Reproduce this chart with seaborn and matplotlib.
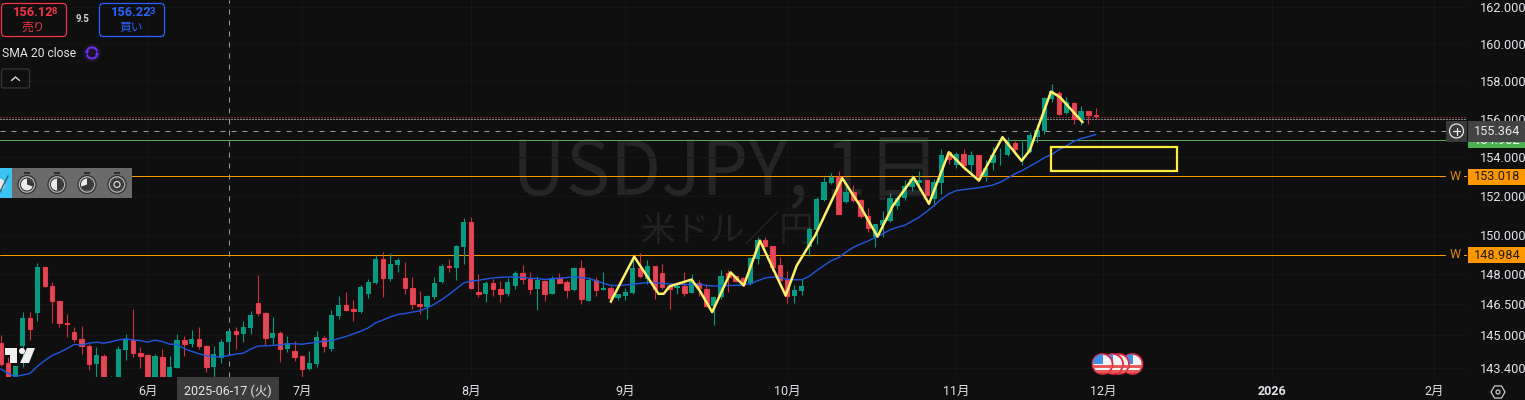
"""USDJPY daily candles with SMA 20, hand drawn zigzag and levels."""
import matplotlib.pyplot as plt
import matplotlib.patches as mpatches
import numpy as np
import pandas as pd
import seaborn as sns

opens = [144.61,143.61,142.50,144.43,145.85,146.06,148.39,147.44,146.67,145.60,
         145.16,144.80,144.46,143.56,143.97,142.60,142.70,144.24,144.75,144.12,
         144.02,142.70,143.93,142.70,143.40,144.75,144.53,144.80,144.46,143.42,
         143.89,144.64,145.19,145.02,145.36,146.58,146.08,144.84,145.10,144.30,
         144.22,143.94,143.32,143.56,144.86,144.30,145.95,146.48,146.25,146.15,
         147.04,147.59,148.78,147.79,148.49,147.82,147.33,146.54,146.39,146.89,
         147.64,148.44,148.34,149.40,150.65,147.14,147.00,147.59,147.29,147.00,
         147.44,148.07,147.79,147.29,147.69,147.04,147.82,147.64,147.24,148.34,
         146.69,147.74,147.24,147.34,146.84,146.94,147.09,148.34,147.79,148.44,
         148.09,147.44,147.34,147.44,147.09,147.59,147.27,146.40,146.86,148.05,
         147.92,147.83,147.52,148.79,149.73,149.43,148.47,147.72,146.94,147.19,
         149.36,150.26,151.80,152.64,152.95,151.65,152.19,151.78,150.97,149.90,
         150.50,150.68,151.45,151.87,152.47,152.66,152.81,151.83,152.64,154.25,
         153.61,154.18,153.58,154.08,153.00,153.68,154.10,154.08,154.74,154.46,
         154.25,155.03,155.39,157.06,157.36,156.30,156.85,155.96,156.42,156.21]
closes = [143.58,142.60,143.50,145.85,145.27,148.39,147.41,146.66,145.59,145.55,
          144.79,144.45,143.56,143.99,142.60,142.90,144.29,144.80,144.10,143.96,
          142.70,143.94,142.70,143.45,144.77,144.54,144.82,144.45,143.42,144.04,
          144.67,145.21,145.03,145.40,146.00,146.06,144.84,145.11,144.30,144.58,
          143.91,143.32,143.60,144.87,144.45,146.00,146.49,146.21,146.17,147.39,
          147.64,148.79,147.80,148.54,148.74,147.31,146.51,146.41,146.94,147.59,
          148.44,148.39,149.43,150.67,147.33,147.01,147.59,147.26,147.00,147.64,
          148.09,147.75,147.29,147.70,147.04,147.84,147.59,147.24,148.34,146.79,
          147.74,147.24,147.34,146.84,147.00,147.14,148.34,147.94,148.44,147.26,
          147.39,147.29,147.44,147.09,147.74,147.33,146.41,146.89,147.93,147.85,
          147.65,147.55,148.84,149.73,149.41,148.35,147.70,146.94,147.24,147.44,
          150.30,151.83,152.68,152.95,151.05,152.21,151.77,150.93,150.33,150.55,
          150.73,151.90,151.87,152.52,152.86,152.83,152.04,152.68,154.08,153.90,
          154.17,153.60,154.08,153.00,153.42,154.08,154.13,154.77,154.44,154.49,
          155.13,155.43,157.11,157.50,156.25,156.88,155.99,156.44,156.19,156.13]
highs = [144.97,143.91,143.50,146.15,146.15,148.59,148.39,147.64,146.69,146.03,
         145.40,145.45,144.53,144.38,144.04,143.00,144.43,145.02,146.25,144.38,
         144.04,144.07,144.32,143.94,145.05,144.92,145.26,145.40,144.48,144.43,
         144.80,145.21,145.40,145.70,146.17,147.99,146.15,145.90,145.21,144.92,
         144.72,143.99,144.19,145.21,144.92,146.20,146.94,147.14,146.74,147.49,
         147.77,148.98,149.15,149.05,148.84,148.64,147.89,147.19,146.98,147.89,
         148.52,148.79,149.50,150.83,150.88,148.04,147.69,147.79,147.69,147.84,
         148.19,148.49,148.14,147.94,147.74,147.94,148.09,147.74,148.39,148.74,
         147.89,147.89,148.14,147.44,147.00,147.34,148.94,149.09,148.74,148.44,
         148.54,147.44,147.59,148.14,148.04,147.74,147.52,146.94,148.22,148.22,
         147.93,147.88,148.86,149.87,149.90,149.45,148.86,148.19,147.49,147.77,
         150.38,151.92,152.95,153.16,153.25,152.52,152.55,151.83,151.37,150.55,
         151.19,152.14,152.00,152.81,153.04,153.25,152.83,152.86,154.43,154.31,
         154.25,154.44,154.34,154.13,153.82,154.51,154.46,155.03,154.86,154.86,
         155.30,155.75,157.15,157.86,157.50,157.18,156.92,156.71,156.44,156.56]
lows = [143.50,142.40,142.30,143.42,144.77,145.67,147.36,145.57,145.37,144.89,
        144.64,144.04,143.26,142.80,142.40,142.40,142.50,143.79,143.91,143.40,
        142.50,142.50,142.50,142.50,143.38,143.94,144.38,144.32,143.17,142.90,
        143.61,144.15,144.29,144.67,145.05,145.95,144.48,144.56,143.69,144.14,
        143.74,142.90,143.26,143.42,144.14,144.19,145.80,146.18,145.70,146.10,
        146.81,147.50,146.86,147.69,148.14,147.04,146.25,146.05,145.80,146.79,
        147.59,148.14,147.74,148.54,147.26,146.86,146.60,146.94,146.64,146.94,
        147.28,147.54,147.04,146.20,146.69,147.03,147.57,146.84,147.19,146.54,
        146.67,146.94,147.22,146.59,146.74,146.74,147.00,147.84,147.52,146.79,
        147.29,146.25,147.04,146.94,147.07,146.94,146.36,145.47,146.78,147.14,
        147.63,147.44,147.49,148.52,149.36,148.19,147.68,146.56,146.56,146.99,
        148.94,149.53,151.71,152.62,151.04,151.63,151.66,150.87,150.13,149.36,
        149.90,150.66,151.32,151.75,152.23,152.30,152.00,151.49,152.09,153.64,
        153.44,153.30,152.95,152.78,152.78,153.35,153.61,154.03,154.08,153.56,
        154.20,154.81,155.18,156.88,156.21,156.28,155.75,155.66,155.71,155.99]
sma20 = [143.34,143.12,142.97,143.04,143.12,143.47,143.74,143.99,144.14,144.32,
         144.53,144.51,144.59,144.64,144.59,144.66,144.75,144.80,144.75,144.71,
         144.64,144.74,144.67,144.54,144.53,144.32,144.19,144.07,143.97,143.93,
         143.91,143.99,144.06,144.10,144.30,144.45,144.46,144.48,144.51,144.56,
         144.56,144.54,144.59,144.64,144.69,144.72,144.82,144.92,145.05,145.18,
         145.34,145.59,145.73,145.88,146.00,146.05,146.12,146.18,146.33,146.51,
         146.74,147.00,147.28,147.57,147.67,147.70,147.77,147.82,147.85,147.87,
         147.87,147.85,147.80,147.79,147.74,147.79,147.80,147.84,147.87,147.84,
         147.79,147.69,147.55,147.45,147.44,147.47,147.50,147.55,147.59,147.59,
         147.54,147.52,147.50,147.49,147.50,147.52,147.44,147.42,147.42,147.44,
         147.45,147.47,147.54,147.68,147.82,147.87,147.84,147.75,147.73,147.73,
         147.90,148.19,148.44,148.69,148.84,149.12,149.36,149.53,149.68,149.87,
         150.04,150.25,150.38,150.48,150.69,150.90,151.19,151.49,151.83,152.09,
         152.26,152.31,152.36,152.40,152.47,152.55,152.69,152.90,153.13,153.30,
         153.52,153.73,153.97,154.13,154.39,154.58,154.82,154.97,155.07,155.18]

zigzag_bar = [83, 86.2, 89.5, 90.2, 91, 94, 95.1, 96.8, 99.3, 101.1, 103.3, 106.8, 108.3, 110.8, 114.5,
              116.9, 119.3, 121.4, 124.2, 126.3, 129, 131, 133.1, 136.3, 138.9, 140, 142.9, 144.1, 147.2]
zigzag_price = [146.64, 148.89, 147.03, 147.03, 147.40, 147.74, 147.19, 146.12, 148.10, 147.44, 149.70, 146.94,
                148.44, 149.95, 152.90, 151.49, 149.90, 151.49, 152.95, 151.58, 154.25, 153.47, 152.78, 155.04,
                153.80, 154.34, 157.45, 157.16, 155.83]

price_ticks = [162, 160, 158, 156, 154, 152, 150, 148, 146.5, 145, 143.4]
month_bars = [20, 41, 64, 85, 107, 130, 150, 173, 195]
month_labels = ['6月', '7月', '8月', '9月', '10月', '11月', '12月', '2026', '2月']
weekly_levels = [153.018, 148.984]
green_level = 154.902
bid_price = 156.128
last_price = 156.02
cross_price = 155.364
cross_bar = 31
box_bars = [142.9, 160]
box_prices = [153.25, 154.55]

bg = '#0f0f0f'
sns.set_theme(style='darkgrid', rc={'figure.facecolor': bg, 'axes.facecolor': bg, 'grid.color': '#161616',
                                    'grid.linewidth': 0.72, 'axes.edgecolor': bg, 'axes.linewidth': 0})
plt.rcParams['font.family'] = ['Roboto', 'Noto Sans CJK JP', 'DejaVu Sans']

df = pd.DataFrame({'bar': np.arange(len(opens)), 'open': opens, 'high': highs, 'low': lows,
                   'close': closes, 'sma': sma20})
up = df[df['close'] >= df['open']]
down = df[df['close'] < df['open']]

fig = plt.figure(figsize=(15.25, 4), dpi=100)
ax = fig.add_axes([0, 23 / 400, 1467 / 1525, 377 / 400])
ax.set_yscale('log')

# pixel layer for the platform chrome
ui = fig.add_axes([0, 0, 1, 1], zorder=5)
ui.set_xlim(0, 1525)
ui.set_ylim(400, 0)
ui.axis('off')
ui.patch.set_alpha(0)

# watermark
ax.text(726.5, 195, 'USDJPY, 1日', transform=ui.transData, ha='center', va='baseline', fontsize=53.6,
        color='#252525', zorder=0.5, family=['Noto Sans CJK JP'])
ax.text(728, 231, '米ドル／円', transform=ui.transData, ha='center', va='center', fontsize=25,
        color='#222222', zorder=0.5, family=['Noto Sans CJK JP'])

# candles
green = '#089981'
red = '#f23645'
ax.vlines(up['bar'], up['low'], up['high'], color=green, lw=0.8, zorder=2)
ax.vlines(down['bar'], down['low'], down['high'], color=red, lw=0.8, alpha=0.85, zorder=2)
ax.bar(up['bar'], up['close'] - up['open'], bottom=up['open'], width=0.72, color=green, lw=0, zorder=3)
ax.bar(down['bar'], down['open'] - down['close'], bottom=down['close'], width=0.62, facecolor='#d94c59',
       edgecolor=red, lw=0.8, zorder=3)

sns.lineplot(data=df, x='bar', y='sma', ax=ax, color='#2157e0', lw=1.0, zorder=4, errorbar=None)
sns.lineplot(x=zigzag_bar, y=zigzag_price, ax=ax, color='#fff06a', lw=1.8, zorder=6, errorbar=None, sort=False)
ax.add_patch(mpatches.Rectangle((box_bars[0], box_prices[0]), box_bars[1] - box_bars[0],
                                box_prices[1] - box_prices[0], fill=False, ec='#fdeb3d', lw=1.6, zorder=6))

# levels
for level in weekly_levels:
    ax.axhline(level, color='#ff9800', lw=0.72, zorder=1.5)
ax.axhline(green_level, color='#5aa85a', lw=0.72, zorder=1.5)
ax.axhline(bid_price, color='#f23645', lw=0.72, ls=(0, (1, 2)), zorder=1.5)
ax.axhline(last_price, color='#f4f4f4', lw=0.72, ls=(0, (1, 2)), zorder=1.5)
ax.axhline(cross_price, color='#9b9b9b', lw=0.72, ls=(0, (5, 6)), zorder=1.5)
ax.axvline(cross_bar, color='#9b9b9b', lw=0.72, ls=(0, (5, 6)), zorder=1.5)

ax.set_xlim(-0.095, 199.5)
ax.set_ylim(142.944, 162.412)
ax.set_xlabel('')
ax.set_ylabel('')
ax.minorticks_off()
ax.set_xticks(month_bars)
ax.set_xticklabels(month_labels, fontsize=9, color='#e0e3e8')
ax.set_yticks(price_ticks)
ax.set_yticklabels(['%.3f' % p for p in price_ticks], fontsize=9.2, color='#e0e3e8')
ax.yaxis.tick_right()
ax.tick_params(axis='x', length=0, pad=6)
ax.tick_params(axis='y', length=0, pad=9, which='both')
ax.tick_params(axis='y', which='minor', labelright=False, right=False)
ax.get_xticklabels()[7].set_fontweight('bold')
ax.grid(True, axis='both')

# right scale labels, the crosshair tag sits on top of the green one
ui.add_patch(mpatches.Rectangle((1468, 133), 57, 14.5, color='#4caf50', lw=0, zorder=2))
ui.text(1497, 141, '154.902', color='white', fontsize=9.2, ha='center', va='center', zorder=3)
ui.add_patch(mpatches.Rectangle((1468, 121), 57, 20.5, color='#434343', lw=0, zorder=4))
ui.text(1497, 131.5, '155.364', color='#e8e8e8', fontsize=9.2, ha='center', va='center', zorder=5)
ui.add_patch(mpatches.Rectangle((1446, 121), 21, 20.5, color='#3a3a3a', lw=0, zorder=4))
ui.add_patch(mpatches.Circle((1456.5, 131), 7, fill=False, ec='#e8e8e8', lw=0.9, zorder=5))
ui.plot([1453, 1460], [131, 131], color='#e8e8e8', lw=0.9, zorder=5)
ui.plot([1456.5, 1456.5], [127.5, 134.5], color='#e8e8e8', lw=0.9, zorder=5)
for y, label in [(176.5, '153.018'), (255, '148.984')]:
    ui.add_patch(mpatches.Rectangle((1468, y - 8), 57, 16, color='#ff9800', lw=0))
    ui.text(1497, y + 0.5, label, color='#1c1c1c', fontsize=9.2, ha='center', va='center')
    ui.add_patch(mpatches.Rectangle((1446, y - 2), 18, 4, color=bg, lw=0))
    ui.text(1455, y, 'W', color='#d98a00', fontsize=9, ha='center', va='center')

# date tag under the crosshair
ui.add_patch(mpatches.Rectangle((177, 377), 102, 23, color='#3d3d3d', lw=0))
ui.text(228, 391, '2025-06-17 (火)', color='#e8e8e8', fontsize=9, ha='center', va='center')

# sell / buy boxes
for x0, col, price, small, word in [(1.5, '#f23645', '156.12', '8', '売り'), (99.5, '#2962ff', '156.22', '3', '買い')]:
    ui.add_patch(mpatches.FancyBboxPatch((x0, 3.5), 65, 33, boxstyle='round,pad=0,rounding_size=4',
                                         fc='none', ec=col, lw=0.9))
    ui.text(x0 + 11, 13, price, color=col, fontsize=9.3, fontweight='bold', ha='left', va='center')
    ui.text(x0 + 50, 11, small, color=col, fontsize=6.8, fontweight='bold', ha='left', va='center')
    ui.text(x0 + 32, 27, word, color=col, fontsize=8.5, ha='center', va='center')
ui.text(83, 19.5, '9.5', color='#d0d0d0', fontsize=7, fontweight='bold', ha='center', va='center')

ui.text(2, 53.5, 'SMA 20 close', color='#e4e4e4', fontsize=8.7, ha='left', va='center')
ui.add_patch(mpatches.Circle((92, 53), 9, color='#1b1528', lw=0))
ui.add_patch(mpatches.Arc((92, 53), 11, 11, theta1=200, theta2=340, ec='#6a2ff0', lw=1.5))
ui.add_patch(mpatches.Arc((92, 53), 11, 11, theta1=20, theta2=160, ec='#6a2ff0', lw=1.5))
ui.add_patch(mpatches.Polygon([(85, 51), (89, 51), (87, 55)], color='#6a2ff0', lw=0))
ui.add_patch(mpatches.Polygon([(95, 55), (99, 55), (97, 51)], color='#6a2ff0', lw=0))
ui.add_patch(mpatches.FancyBboxPatch((1.5, 69), 28, 19, boxstyle='round,pad=0,rounding_size=2',
                                     fc='none', ec='#363636', lw=0.9))
ui.plot([11.5, 15.5, 19.5], [80.5, 77, 80.5], color='#d8d8d8', lw=1)

# stopwatch strip
ui.add_patch(mpatches.Rectangle((12, 168), 120, 30, color='#6a6a6a', lw=0))
ui.add_patch(mpatches.Rectangle((0, 168), 12, 30, color='#38c3f0', lw=0))
ui.add_patch(mpatches.Circle((-1, 184.5), 6, color='#e8e8e8', lw=0))
ui.plot([0, 8], [192, 176], color='#2f6f86', lw=1.2)
for cx, sweep in [(27, 110), (57, 180), (87, 250), (117, 360)]:
    ui.add_patch(mpatches.Rectangle((cx - 3, 172), 6, 2, color='#2c2c2c', lw=0, zorder=3))
    ui.add_patch(mpatches.Circle((cx, 184.5), 9, fc='#b0b0b0', ec='#303030', lw=0.9, zorder=3))
    ui.add_patch(mpatches.Circle((cx, 184.5), 6.5, fc='#ececec', ec='#2c2c2c', lw=0.7, zorder=4))
    ui.add_patch(mpatches.Wedge((cx, 184.5), 6.2, -90, -90 + sweep, fc='#3a3a3a', lw=0, zorder=5))
ui.add_patch(mpatches.Circle((117, 184.5), 3, fill=False, ec='#d0d0d0', lw=0.9, zorder=6))

# TradingView logo
ui.add_patch(mpatches.Polygon([(5, 348), (17, 348), (17, 363), (10, 363), (10, 355), (5, 355)], color='#f0f0f0', lw=0))
ui.add_patch(mpatches.Circle((22, 351), 3, color='#f0f0f0', lw=0))
ui.add_patch(mpatches.Polygon([(27, 348), (35, 348), (29, 363), (20, 363)], color='#f0f0f0', lw=0))

# event flags, drawn back to front
for cx in [1132.5, 1119, 1113, 1102.5]:
    disc = mpatches.Circle((cx, 364), 10, fc='#f4f4f4', ec='#e0283c', lw=1.3, zorder=7)
    ui.add_patch(disc)
    for y0 in [365, 370]:
        stripe = mpatches.Rectangle((cx - 10, y0), 20, 3, color='#e85a5a', lw=0, zorder=7)
        ui.add_patch(stripe)
        stripe.set_clip_path(disc)
    canton = mpatches.Rectangle((cx - 10, 354), 10, 10, color='#3f8fe8', lw=0, zorder=7)
    ui.add_patch(canton)
    canton.set_clip_path(disc)

# settings hexagon
ui.add_patch(mpatches.RegularPolygon((1498, 392), 6, radius=7, orientation=np.pi / 2, fill=False, ec='#c8c8c8', lw=0.9))
ui.add_patch(mpatches.Circle((1498, 392), 2, fill=False, ec='#c8c8c8', lw=0.9))

plt.savefig('out.png', dpi=100, facecolor=bg)
